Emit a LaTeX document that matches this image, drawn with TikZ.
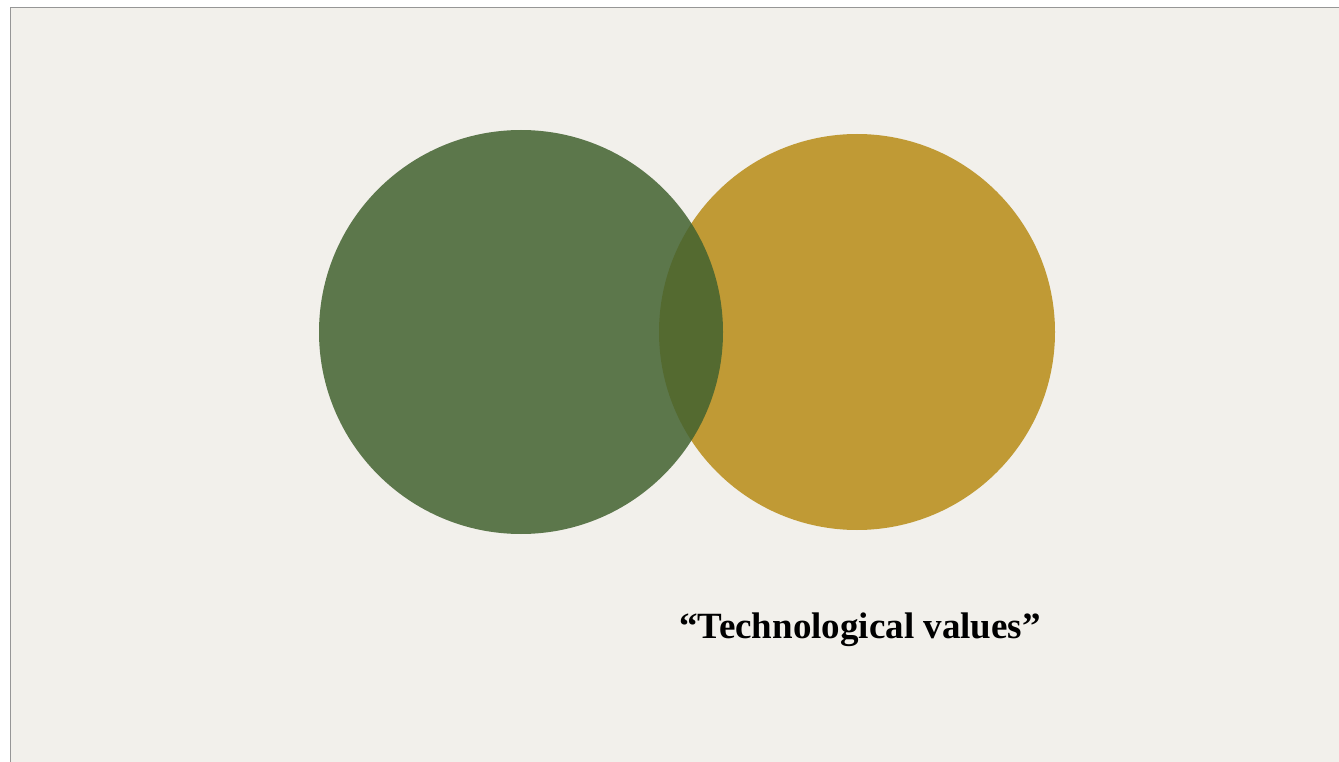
\documentclass[tikz,border=0pt]{standalone}
\usepackage{fontspec}
\setmainfont{Liberation Serif}
\usepackage{tikz}
\usetikzlibrary{positioning}
\definecolor{paper}{RGB}{242,240,235}
\definecolor{frameline}{RGB}{150,150,150}
\definecolor{leafgreen}{RGB}{66,98,48}
\definecolor{ochre}{RGB}{192,154,53}
\tikzset{
  sheet/.style={fill=paper, draw=frameline, line width=1pt},
  disc/.style={circle, inner sep=0pt, draw=none},
  greendisc/.style={disc, minimum size=404pt, fill=leafgreen, fill opacity=0.85},
  ochredisc/.style={disc, minimum size=396pt, fill=ochre},
  caption/.style={font=\fontsize{37}{44}\selectfont\bfseries, text=black, inner sep=0pt}
}

\begin{document}
\begin{tikzpicture}[x=1pt, y=-1pt]
  \fill[white] (0,0) rectangle (1339,762);
  \useasboundingbox (0,0) rectangle (1339,762);
  \path[sheet] (10,7.5) -- (1339.5,7.5) -- (1339.5,762.5) -- (10,762.5);
  \fill[paper] (10.5,8) rectangle (1339,762);
  \draw[frameline, line width=1pt] (10,762) -- (10,7.5) -- (1339,7.5);
  \node[ochredisc] (tech) at (857,332) {};
  \node[greendisc] (people) at (521,332) {};
  \node[caption, anchor=base] (label) at (860,638) {“Technological values”};
\end{tikzpicture}
\end{document}
